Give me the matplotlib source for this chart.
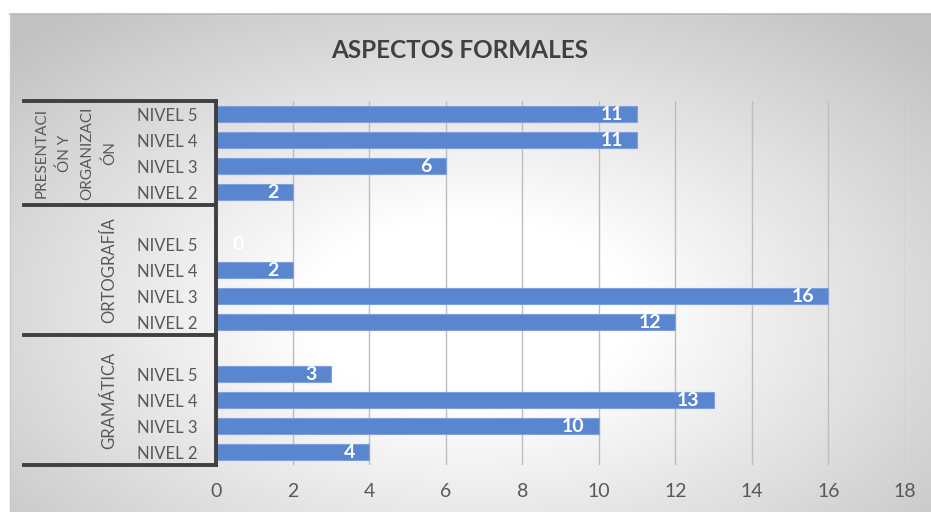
import numpy as np
import matplotlib
matplotlib.use("Agg")
import matplotlib.pyplot as plt
from matplotlib.transforms import blended_transform_factory

plt.rcParams["font.family"] = ["Lato", "DejaVu Sans"]

TITLE = "ASPECTOS FORMALES"
GRUPOS = ["PRESENTACI\nÓN Y\nORGANIZACI\nÓN", "ORTOGRAFÍA", "GRAMÁTICA"]
NIVELES = ["NIVEL 5", "NIVEL 4", "NIVEL 3", "NIVEL 2"]
presentacion = [11, 11, 6, 2]
ortografia = [0, 2, 16, 12]
gramatica = [3, 13, 10, 4]
X_TICKS = [0, 2, 4, 6, 8, 10, 12, 14, 16, 18]

BAR_COLOR = "#5a86d0"
EDGE_COLOR = "#7fa0dc"
TEXT_COLOR = "#595959"
LINE_COLOR = "#404040"

fig = plt.figure(figsize=(9.31, 5.12), dpi=100)
W, H = 931, 512

# fondo degradado radial (como el area de grafico de Excel)
bg = fig.add_axes([10 / W, 0, 1 - 10 / W, 1 - 14 / H], zorder=-2)
ny, nx = 300, 540
yy, xx = np.mgrid[0:ny, 0:nx]
u = (xx / (nx - 1) - 0.5) / 0.5
v = (yy / (ny - 1) - 0.6) / 0.55
r = np.sqrt(u ** 2 + v ** 2)
g = 1 - 0.24 * np.clip((r - 0.35) / 1.05, 0, 1)
bg.imshow(np.dstack([g, g, g]), aspect="auto", extent=(0, 1, 0, 1))
bg.set_xlim(0, 1)
bg.set_ylim(0, 1)
bg.axis("off")
fig.add_artist(plt.Line2D([10 / W, 1], [1 - 14 / H, 1 - 14 / H], color="#b8b8b8",
                          lw=1.2, transform=fig.transFigure))
fig.add_artist(plt.Line2D([10 / W, 10 / W], [0, 1 - 14 / H], color="#c8c8c8",
                          lw=1.0, transform=fig.transFigure))

left, right = 216 / W, 905 / W
top, bottom = 1 - 101 / H, 1 - 465 / H
ax = fig.add_axes([left, bottom, right - left, top - bottom])
ax.patch.set_alpha(0)

# posiciones: cuatro niveles por grupo, con un hueco entre grupos
valores = []
etiquetas = []
posiciones = []
grupos_centro = []
pos = 0
for gi, datos in enumerate([presentacion, ortografia, gramatica]):
    inicio = pos - 0.5
    if gi > 0:
        pos += 1
    for nivel, val in zip(NIVELES, datos):
        posiciones.append(pos)
        valores.append(val)
        etiquetas.append(nivel)
        pos += 1
    grupos_centro.append((inicio + pos - 0.5) / 2)

ax.barh(posiciones, valores, height=0.58, color=BAR_COLOR, edgecolor=EDGE_COLOR,
        linewidth=0.8, zorder=3)

for p, val in zip(posiciones, valores):
    if val == 0:
        ax.annotate(str(val), (val, p), xytext=(12, 0), textcoords="offset points",
                    ha="left", va="center", color="white", fontsize=14,
                    fontweight="bold", zorder=4)
    else:
        ax.annotate(str(val), (val, p), xytext=(-10, 0), textcoords="offset points",
                    ha="right", va="center", color="white", fontsize=14,
                    fontweight="bold", zorder=4)

ax.set_xlim(0, 18)
ax.set_ylim(pos - 0.5, -0.5)
ax.set_xticks(X_TICKS)
ax.set_xticklabels([str(t) for t in X_TICKS])
ax.set_yticks(posiciones)
ax.set_yticklabels(etiquetas)
ax.tick_params(axis="x", length=0, pad=13, labelsize=14, labelcolor=TEXT_COLOR)
ax.tick_params(axis="y", length=0, pad=13, labelsize=12, labelcolor=TEXT_COLOR)
ax.grid(axis="x", color="#bdbdbd", linewidth=1.0, zorder=0)
for s in ax.spines.values():
    s.set_visible(False)

# lineas gruesas del eje de categorias de varios niveles
trans = blended_transform_factory(ax.transAxes, ax.transData)
x_izq = (24 - 216) / (905 - 216)
limites = [-0.5, 3.5, 8.5, pos - 0.5]
for yb in limites:
    ax.plot([x_izq, 0], [yb, yb], transform=trans, color=LINE_COLOR, lw=2.8,
            clip_on=False, solid_capstyle="projecting", zorder=5)
ax.plot([0, 0], [-0.5, pos - 0.5], transform=trans, color=LINE_COLOR, lw=2.8,
        clip_on=False, solid_capstyle="projecting", zorder=5)

x_grupo = (117 - 216) / (905 - 216)
for i, (nombre, yc) in enumerate(zip(GRUPOS, grupos_centro)):
    tam = 11 if i == 0 else 12
    ax.text(x_grupo, yc, nombre, transform=trans, rotation=90, ha="right",
            va="center", multialignment="center", linespacing=1.75,
            fontsize=tam, color=TEXT_COLOR)

fig.text(460 / W, 1 - 51 / H, TITLE, ha="center", va="center", fontsize=17.5,
         fontweight="bold", color=LINE_COLOR)

fig.savefig("out.png", dpi=100)
